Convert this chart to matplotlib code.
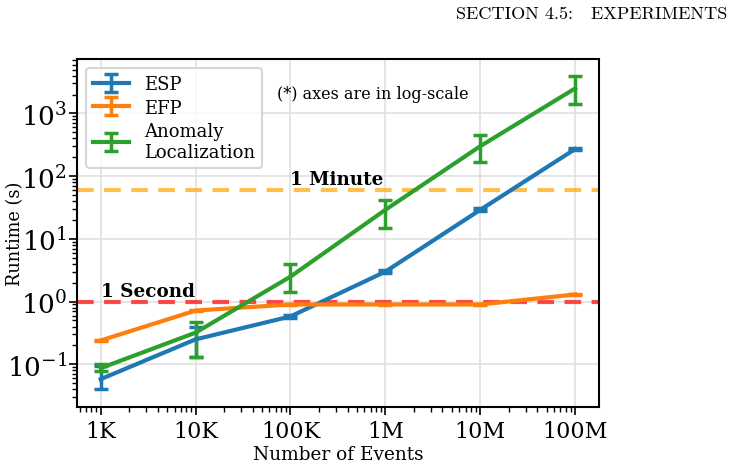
import matplotlib
matplotlib.use("Agg")
import matplotlib.pyplot as plt
import numpy as np

events = [1e3, 1e4, 1e5, 1e6, 1e7, 1e8]
xtick_labels = ["1K", "10K", "100K", "1M", "10M", "100M"]

esp_mean = [0.058, 0.25, 0.58, 3.0, 29, 270]
esp_low = [0.040, 0.13, 0.55, 2.85, 27.5, 260]
esp_high = [0.095, 0.39, 0.62, 3.15, 30.5, 280]

efp_mean = [0.24, 0.72, 0.9, 0.9, 0.9, 1.3]
efp_low = [0.235, 0.71, 0.89, 0.89, 0.89, 1.28]
efp_high = [0.245, 0.73, 0.91, 0.91, 0.91, 1.32]

al_mean = [0.087, 0.32, 2.5, 29, 300, 2500]
al_low = [0.078, 0.13, 1.44, 15, 170, 1400]
al_high = [0.100, 0.48, 4.0, 41, 460, 3900]

series = [
    ("ESP", esp_mean, esp_low, esp_high, "#1f77b4"),
    ("EFP", efp_mean, efp_low, efp_high, "#ff7f0e"),
    ("Anomaly\nLocalization", al_mean, al_low, al_high, "#2ca02c"),
]

plt.rcParams["font.family"] = ["DejaVu Serif"]
plt.rcParams["mathtext.fontset"] = "cm"

fig = plt.figure(figsize=(7.33, 4.64), dpi=100)
ax = fig.add_axes([0.105, 0.121, 0.712, 0.750])

for label, m, lo, hi, c in series:
    m = np.array(m); lo = np.array(lo); hi = np.array(hi)
    yerr = np.vstack([m - lo, hi - m])
    ax.errorbar(events, m, yerr=yerr, color=c, lw=3, elinewidth=2.5,
                capsize=5, capthick=2.5, label=label, zorder=3)

ax.axhline(60, color="orange", alpha=0.7, lw=3, ls=(0, (4, 2.5)), zorder=2)
ax.axhline(1, color="red", alpha=0.7, lw=3, ls=(0, (4, 2.5)), zorder=2)
ax.text(1e5, 64, "1 Minute", fontsize=13.2, fontweight="bold", va="bottom", ha="left")
ax.text(1e3, 1.07, "1 Second", fontsize=13.2, fontweight="bold", va="bottom", ha="left")
ax.text(0.383, 0.90, "(*) axes are in log-scale", fontsize=11.5,
        transform=ax.transAxes, va="center", ha="left")

ax.set_xscale("log")
ax.set_yscale("log")
ax.set_ylim(0.021, 7400)
ax.set_xticks(events)
ax.set_xticklabels(xtick_labels)
ax.tick_params(axis="both", which="major", length=6, width=1.2)
ax.tick_params(axis="x", which="major", labelsize=16)
ax.tick_params(axis="y", which="major", labelsize=19, pad=1)
ax.tick_params(axis="both", which="minor", length=3.5, width=1)
ax.grid(True, which="major", color="#e0e0e0", lw=1.2, zorder=0)
ax.set_axisbelow(True)
for s in ax.spines.values():
    s.set_linewidth(1.5)
    s.set_color("black")

ax.set_xlabel("Number of Events", fontsize=13.3, labelpad=2)
ax.set_ylabel("Runtime (s)", fontsize=12.8)
ax.yaxis.set_label_coords(-0.102, 0.5)

leg = ax.legend(loc="upper left", fontsize=13, frameon=True, fancybox=True,
                handlelength=2.0, borderpad=0.4, labelspacing=0.3,
                handletextpad=0.8, borderaxespad=0.5)
leg.get_frame().set_edgecolor("#cccccc")
leg.get_frame().set_linewidth(1.5)

fig.text(0.992, 0.970, "SECTION 4.5:   EXPERIMENTS", fontsize=13.1,
         family="cmr10", ha="right", va="center")

fig.savefig("out.png", dpi=100)
